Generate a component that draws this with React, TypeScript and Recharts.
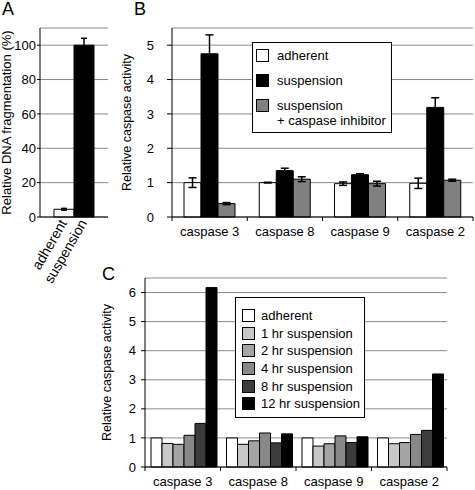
import React from "react";
import {
    BarChart,
    Bar,
    XAxis,
    YAxis,
    CartesianGrid,
    ErrorBar,
    Legend,
    Cell,
} from "recharts";

const FONT = '"Liberation Sans", Arial, Helvetica, sans-serif';
const GRID = "#8a8a8a";

// panel A: DNA fragmentation
const fragCategories = ["adherent", "suspension"];
const fragValues = [4.5, 100];
const fragErrors = [0.5, 4];
const fragFills = ["#ffffff", "#000000"];
const fragTicks = [0, 20, 40, 60, 80, 100];

// panel B: caspase activity, adherent vs suspension (+ inhibitor)
const caspases = ["caspase 3", "caspase 8", "caspase 9", "caspase 2"];
const seriesB = ["adherent", "suspension", "suspension\n+ caspase inhibitor"];
const fillsB = ["#ffffff", "#000000", "#808080"];
const adherentB = [1.0, 1.0, 0.97, 0.98];
const adherentBErr = [0.14, 0.01, 0.05, 0.15];
const suspensionB = [4.75, 1.35, 1.23, 3.19];
const suspensionBErr = [0.55, 0.07, 0.03, 0.28];
const inhibitorB = [0.39, 1.1, 0.97, 1.07];
const inhibitorBErr = [0.03, 0.07, 0.07, 0.03];
const ticksB = [0, 1, 2, 3, 4, 5];

// panel C: time course in suspension
const seriesC = [
    "adherent",
    "1 hr suspension",
    "2 hr suspension",
    "4 hr suspension",
    "8 hr suspension",
    "12 hr suspension",
];
const fillsC = ["#ffffff", "#c8c8c8", "#a4a4a4", "#888888", "#3c3c3c", "#000000"];
const adherentC = [1.0, 1.0, 1.0, 1.0];
const hr1C = [0.81, 0.78, 0.72, 0.8];
const hr2C = [0.78, 0.9, 0.8, 0.84];
const hr4C = [1.09, 1.17, 1.07, 1.12];
const hr8C = [1.5, 0.83, 0.84, 1.26];
const hr12C = [6.17, 1.14, 1.04, 3.2];
const ticksC = [0, 1, 2, 3, 4, 5, 6];

const fragData = fragCategories.map((name, i) => ({
    name,
    value: fragValues[i],
    err: fragErrors[i],
}));

const dataB = caspases.map((name, i) => ({
    name,
    adh: adherentB[i],
    adhErr: adherentBErr[i],
    sus: suspensionB[i],
    susErr: suspensionBErr[i],
    inh: inhibitorB[i],
    inhErr: inhibitorBErr[i],
}));

const timeValues = [adherentC, hr1C, hr2C, hr4C, hr8C, hr12C];
const dataC = caspases.map((name, i) => {
    const row: Record<string, string | number> = { name };
    timeValues.forEach((vals, s) => {
        row["s" + s] = vals[i];
    });
    return row;
});

const tickStyle = { fill: "#000", fontSize: 13 };

// rotated category labels under panel A
function SlantTick(props: any) {
    const { x, y, payload } = props;
    return (
        <g transform={`translate(${x},${y})`}>
            <text
                textAnchor="end"
                transform="rotate(-60)"
                dy={4}
                fill="#000"
                fontSize={14}
            >
                {payload.value}
            </text>
        </g>
    );
}

// category label plus small tick marks on the category boundaries
function makeCatTick(count: number) {
    return (props: any) => {
        const { x, y, payload, index } = props;
        const half = payload.offset || 0;
        const axisY = y - 10;
        return (
            <g>
                {half > 0 && (
                    <line x1={x - half} x2={x - half} y1={axisY} y2={axisY + 4} stroke="#000" />
                )}
                {half > 0 && index === count - 1 && (
                    <line x1={x + half} x2={x + half} y1={axisY} y2={axisY + 4} stroke="#000" />
                )}
                <text x={x} y={y} dy="0.71em" textAnchor="middle" fill="#000" fontSize={13}>
                    {payload.value}
                </text>
            </g>
        );
    };
}

function Swatch({ fill }: { fill: string }) {
    return (
        <div
            style={{
                width: 11,
                height: 11,
                border: "1px solid #000",
                background: fill,
                flex: "none",
            }}
        />
    );
}

// legend boxes keep the series order of the data arrays
function LegendB() {
    return (
        <div
            style={{
                border: "1px solid #000",
                background: "#fff",
                padding: "5px 4px 4px 3px",
                fontSize: 13,
                lineHeight: "15px",
                color: "#000",
            }}
        >
            {seriesB.map((name, i) => (
                <div
                    key={i}
                    style={{
                        display: "flex",
                        alignItems: "flex-start",
                        marginBottom: i < seriesB.length - 1 ? 10 : 0,
                    }}
                >
                    <div style={{ marginTop: 1 }}>
                        <Swatch fill={fillsB[i]} />
                    </div>
                    <div style={{ marginLeft: 8, whiteSpace: "pre-line" }}>{name}</div>
                </div>
            ))}
        </div>
    );
}

function LegendC() {
    return (
        <div
            style={{
                border: "1px solid #000",
                background: "#fff",
                padding: "9px 4px 4px 6px",
                fontSize: 13,
                color: "#000",
            }}
        >
            {seriesC.map((name, i) => (
                <div
                    key={i}
                    style={{ display: "flex", alignItems: "center", height: 17.6 }}
                >
                    <Swatch fill={fillsC[i]} />
                    <div style={{ marginLeft: 6, whiteSpace: "nowrap" }}>{name}</div>
                </div>
            ))}
        </div>
    );
}

const titleStyle: React.CSSProperties = {
    position: "absolute",
    fontSize: 18,
    lineHeight: 1,
    color: "#000",
};

export default function App() {
    return (
        <div
            style={{
                position: "absolute",
                left: 0,
                top: 0,
                width: 475,
                height: 490,
                background: "#fff",
                fontFamily: FONT,
            }}
        >
            <div style={{ ...titleStyle, left: 2, top: 0 }}>A</div>
            <div style={{ ...titleStyle, left: 134, top: 0 }}>B</div>
            <div style={{ ...titleStyle, left: 102, top: 265 }}>C</div>

            {/* A */}
            <div style={{ position: "absolute", left: 0, top: 0 }}>
                <BarChart
                    width={110}
                    height={300}
                    data={fragData}
                    margin={{ top: 28, right: 2, bottom: 0, left: 0 }}
                    barCategoryGap={0}
                >
                    <CartesianGrid vertical={false} stroke={GRID} />
                    <XAxis
                        dataKey="name"
                        interval={0}
                        padding={{ left: 14, right: 14 }}
                        tickLine={false}
                        tickSize={2}
                        tickMargin={2}
                        height={83}
                        axisLine={{ stroke: "#000" }}
                        tick={(p: any) => <SlantTick {...p} />}
                    />
                    <XAxis
                        xAxisId="top"
                        dataKey="name"
                        orientation="top"
                        height={0}
                        tick={false}
                        tickLine={false}
                        axisLine={{ stroke: "#000" }}
                    />
                    <YAxis
                        domain={[0, 110]}
                        ticks={fragTicks}
                        width={40}
                        tickSize={3}
                        tickMargin={1}
                        tick={tickStyle}
                        tickLine={{ stroke: "#000" }}
                        axisLine={{ stroke: "#000" }}
                        label={{
                            value: "Relative DNA fragmentation (%)",
                            angle: -90,
                            position: "insideLeft",
                            offset: 6,
                            style: { textAnchor: "middle", fontSize: 13, fill: "#000" },
                        }}
                    />
                    <YAxis
                        yAxisId="right"
                        orientation="right"
                        width={0}
                        tick={false}
                        tickLine={false}
                        axisLine={{ stroke: "#000" }}
                    />
                    <Bar dataKey="value" stroke="#000" isAnimationActive={false}>
                        {fragData.map((_, i) => (
                            <Cell key={i} fill={fragFills[i]} />
                        ))}
                        <ErrorBar dataKey="err" width={3} stroke="#000" />
                    </Bar>
                </BarChart>
            </div>

            {/* B */}
            <div style={{ position: "absolute", left: 120, top: 0 }}>
                <BarChart
                    width={355}
                    height={250}
                    data={dataB}
                    margin={{ top: 28, right: 2, bottom: 0, left: 0 }}
                    barCategoryGap={12}
                    barGap={0}
                >
                    <CartesianGrid vertical={false} stroke={GRID} />
                    <XAxis
                        dataKey="name"
                        interval={0}
                        height={33}
                        tickLine={false}
                        tickMargin={4}
                        axisLine={{ stroke: "#000" }}
                        tick={makeCatTick(caspases.length)}
                    />
                    <XAxis
                        xAxisId="top"
                        dataKey="name"
                        orientation="top"
                        height={0}
                        tick={false}
                        tickLine={false}
                        axisLine={{ stroke: "#000" }}
                    />
                    <YAxis
                        domain={[0, 5.5]}
                        ticks={ticksB}
                        width={52}
                        tickSize={5}
                        tickMargin={13}
                        tick={tickStyle}
                        tickLine={{ stroke: "#000" }}
                        axisLine={{ stroke: "#000" }}
                        label={{
                            value: "Relative caspase activity",
                            angle: -90,
                            position: "insideLeft",
                            offset: 7,
                            style: { textAnchor: "middle", fontSize: 12.5, fill: "#000" },
                        }}
                    />
                    <YAxis
                        yAxisId="right"
                        orientation="right"
                        width={0}
                        tick={false}
                        tickLine={false}
                        axisLine={{ stroke: "#000" }}
                    />
                    <Legend
                        layout="horizontal"
                        verticalAlign="middle"
                        align="center"
                        wrapperStyle={{ left: 132, top: 42, width: 140 }}
                        content={() => <LegendB />}
                    />
                    <Bar dataKey="adh" name={seriesB[0]} fill={fillsB[0]} stroke="#000" isAnimationActive={false}>
                        <ErrorBar dataKey="adhErr" width={4} stroke="#000" />
                    </Bar>
                    <Bar dataKey="sus" name={seriesB[1]} fill={fillsB[1]} stroke="#000" isAnimationActive={false}>
                        <ErrorBar dataKey="susErr" width={4} stroke="#000" />
                    </Bar>
                    <Bar dataKey="inh" name={seriesB[2]} fill={fillsB[2]} stroke="#000" isAnimationActive={false}>
                        <ErrorBar dataKey="inhErr" width={4} stroke="#000" />
                    </Bar>
                </BarChart>
            </div>

            {/* C */}
            <div style={{ position: "absolute", left: 95, top: 260 }}>
                <BarChart
                    width={355}
                    height={230}
                    data={dataC}
                    margin={{ top: 18, right: 3, bottom: 0, left: 0 }}
                    barCategoryGap={6}
                    barGap={0}
                >
                    <CartesianGrid vertical={false} stroke={GRID} />
                    <XAxis
                        dataKey="name"
                        interval={0}
                        height={23}
                        tickLine={false}
                        tickMargin={4}
                        axisLine={{ stroke: "#000" }}
                        tick={makeCatTick(caspases.length)}
                    />
                    <XAxis
                        xAxisId="top"
                        dataKey="name"
                        orientation="top"
                        height={0}
                        tick={false}
                        tickLine={false}
                        axisLine={{ stroke: "#000" }}
                    />
                    <YAxis
                        domain={[0, 6.5]}
                        ticks={ticksC}
                        width={50}
                        tickSize={4}
                        tickMargin={5}
                        tick={tickStyle}
                        tickLine={{ stroke: "#000" }}
                        axisLine={{ stroke: "#000" }}
                        label={{
                            value: "Relative caspase activity",
                            angle: -90,
                            position: "insideLeft",
                            offset: 12,
                            style: { textAnchor: "middle", fontSize: 12.5, fill: "#000" },
                        }}
                    />
                    <YAxis
                        yAxisId="right"
                        orientation="right"
                        width={0}
                        tick={false}
                        tickLine={false}
                        axisLine={{ stroke: "#000" }}
                    />
                    <Legend
                        layout="horizontal"
                        verticalAlign="middle"
                        align="center"
                        wrapperStyle={{ left: 140, top: 37, width: 130 }}
                        content={() => <LegendC />}
                    />
                    {seriesC.map((name, s) => (
                        <Bar
                            key={name}
                            dataKey={"s" + s}
                            name={name}
                            fill={fillsC[s]}
                            stroke="#000"
                            isAnimationActive={false}
                        />
                    ))}
                </BarChart>
            </div>
        </div>
    );
}
